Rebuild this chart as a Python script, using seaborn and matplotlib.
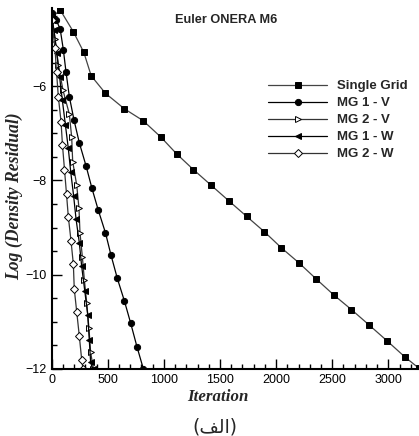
import numpy as np
import pandas as pd
import matplotlib
matplotlib.use("Agg")
import matplotlib.pyplot as plt
from matplotlib.ticker import MultipleLocator
import seaborn as sns

# values
single_it = [0, 75, 192, 286, 352, 479, 648, 814, 973, 1115, 1263, 1420, 1582, 1736,
             1896, 2047, 2204, 2357, 2514, 2671, 2830, 2987, 3145, 3270]
single_res = [-4.55, -4.38, -4.84, -5.28, -5.78, -6.15, -6.48, -6.73, -7.08, -7.44, -7.77, -8.1, -8.44, -8.76,
              -9.09, -9.43, -9.75, -10.09, -10.43, -10.74, -11.07, -11.4, -11.74, -11.98]

mg1v_it = [0, 40, 75, 104, 127, 157, 199, 246, 306, 359, 415, 479, 528, 585, 647, 704, 760, 817]
mg1v_res = [-4.45, -4.6, -4.78, -5.23, -5.69, -6.22, -6.72, -7.2, -7.69, -8.17, -8.63, -9.11, -9.58, -10.08,
            -10.55, -11.03, -11.53, -12.0]

mg2v_it = [0, 30, 60, 100, 157, 178, 187, 223, 243, 252, 273, 291, 312, 332, 347, 372]
mg2v_res = [-4.5, -5.0, -5.55, -6.08, -6.59, -7.08, -7.6, -8.1, -8.59, -9.11, -9.62, -10.11, -10.6, -11.14,
            -11.65, -12.0]

mg1w_it = [0, 20, 45, 70, 95, 122, 148, 169, 195, 217, 246, 267, 295, 321, 335, 347, 365]
mg1w_res = [-4.55, -4.8, -5.3, -5.8, -6.3, -6.82, -7.32, -7.81, -8.32, -8.82, -9.32, -9.82, -10.35, -10.85,
            -11.39, -11.86, -12.0]

mg2w_it = [0, 29, 43, 59, 83, 96, 114, 132, 148, 172, 193, 201, 223, 246, 267, 279]
mg2w_res = [-4.6, -5.19, -5.7, -6.22, -6.75, -7.25, -7.77, -8.29, -8.77, -9.28, -9.78, -10.3, -10.79, -11.3,
            -11.8, -12.0]

series = [
    ("Single Grid", single_it, single_res, "s", "black", "#444444", 3.8),
    ("MG 1 - V", mg1v_it, mg1v_res, "o", "black", "black", 4.5),
    ("MG 2 - V", mg2v_it, mg2v_res, ">", "white", "#333333", 4.5),
    ("MG 1 - W", mg1w_it, mg1w_res, "<", "black", "black", 4.5),
    ("MG 2 - W", mg2w_it, mg2w_res, "D", "white", "#333333", 4.0),
]

sns.set_style("ticks")
plt.rcParams["font.family"] = ["Liberation Sans", "DejaVu Sans"]

fig = plt.figure(figsize=(4.19, 4.36), dpi=100)
ax = fig.add_axes([0.1234, 0.1537, 0.8766, 0.828])

for name, it, res, mk, face, lc, ms in series:
    df = pd.DataFrame({"Iteration": it, "Residual": res})
    sns.lineplot(data=df, x="Iteration", y="Residual", ax=ax, sort=False, estimator=None,
                 color=lc, linewidth=0.9, marker=mk, markersize=ms,
                 markerfacecolor=face, markeredgecolor="black", markeredgewidth=0.7,
                 label=name)

ax.set_xlim(0, 3273)
ax.set_ylim(-12, -4.34)
ax.xaxis.set_major_locator(MultipleLocator(500))
ax.xaxis.set_minor_locator(MultipleLocator(100))
ax.yaxis.set_major_locator(MultipleLocator(2))
ax.yaxis.set_minor_locator(MultipleLocator(0.5))
ax.tick_params(which="both", direction="in", labelsize=9, colors="black", width=1.0)
ax.tick_params(which="major", length=7)
ax.tick_params(which="minor", length=3.5)
for s in ["top", "right"]:
    ax.spines[s].set_visible(False)
for s in ["left", "bottom"]:
    ax.spines[s].set_linewidth(1.5)
    ax.spines[s].set_color("black")

ax.set_xlabel("Iteration", family="Liberation Serif", fontweight="bold", fontstyle="italic",
              fontsize=12.2)
ax.set_ylabel("Log (Density Residual)", family="Liberation Serif", fontweight="bold",
              fontstyle="italic", fontsize=12.7)
ax.xaxis.set_label_coords(0.453, -0.055)
ax.yaxis.set_label_coords(-0.078, 0.478)

ax.text(0.476, 0.967, "Euler ONERA M6", transform=ax.transAxes, ha="center", va="center",
        fontsize=9.2, fontweight="bold")

leg = ax.legend(loc="upper left", bbox_to_anchor=(0.5895, 0.8006), frameon=False,
                borderaxespad=0, borderpad=0, handlelength=4.47, handletextpad=0.76,
                labelspacing=0.36, prop={"weight": "bold", "size": 9.5})

# "(الف)" written with Arabic presentation forms so it shows joined and right-to-left
fig.text(0.513, 0.0206, "(\ufed2\ufedf\ufe8d)", ha="center", va="center", fontsize=13.5,
         family=["DejaVu Sans"])

fig.savefig("out.png", dpi=100)
